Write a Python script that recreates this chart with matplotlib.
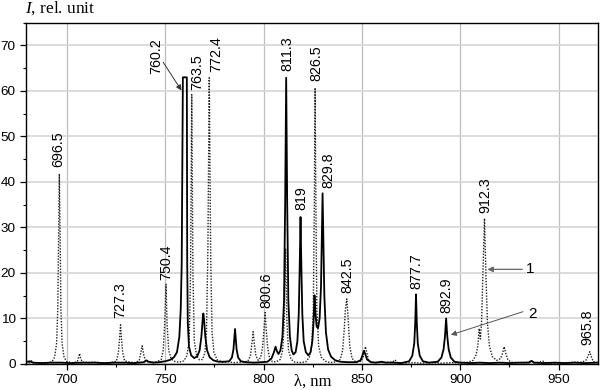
import numpy as np
import matplotlib
matplotlib.use("Agg")
import matplotlib.pyplot as plt
from matplotlib.ticker import MultipleLocator

plt.rcParams['font.family'] = ['Liberation Sans', 'DejaVu Sans']
plt.rcParams['mathtext.fontset'] = 'custom'
plt.rcParams['mathtext.it'] = 'Liberation Serif:italic'
plt.rcParams['mathtext.rm'] = 'Liberation Serif'

# ---- data: spectrum 1 (dotted) as (wavelength nm, intensity) ----
spectrum_1 = np.array([
    (679, 0.3), (681, 0.3), (682, 0.7), (683, 0.2), (686, 0.3), (690, 0.2), (692.5, 0.5),
    (693.8, 1.5), (694.8, 4.5), (695.4, 12), (695.8, 28), (696.2, 41.8), (696.6, 28),
    (697.0, 12), (697.6, 4.5), (698.6, 1.5), (700, 0.5), (703, 0.3), (705.3, 0.5),
    (706.0, 1.5), (706.5, 2.3), (707.0, 1.2), (708, 0.4), (711, 0.3), (715, 0.4),
    (718, 0.2), (722, 0.3), (725.2, 0.6), (726.2, 2.5), (726.8, 5.5), (727.3, 8.6),
    (727.8, 5.5), (728.4, 2.5), (729.4, 0.7), (732, 0.4), (735, 0.3), (736.8, 0.8),
    (737.6, 2.4), (738.3, 4.0), (739.0, 2.2), (740, 0.6), (743, 0.3), (746, 0.5),
    (748.0, 1.0), (749.0, 3.0), (749.7, 8.5), (750.4, 17.5), (751.0, 8.5), (751.8, 3.0),
    (753, 1.2), (754.5, 0.6), (757, 0.4), (759.5, 0.7), (761.0, 1.8), (762.2, 5),
    (762.9, 20), (763.5, 59.2), (764.1, 20), (764.8, 5), (766.0, 1.8), (767.5, 0.9),
    (769, 1.0), (770.2, 2.5), (771.0, 7), (771.7, 25), (772.4, 62.9), (773.1, 25),
    (773.8, 7), (774.8, 2.5), (776.5, 0.9), (779, 0.4), (782, 0.5), (785, 0.3),
    (789, 0.4), (792, 0.6), (793.3, 1.8), (794.1, 4.5), (794.7, 7.1), (795.3, 4.5),
    (796.1, 1.8), (797.3, 0.8), (798.6, 1.5), (799.6, 4), (800.3, 8), (800.8, 11.3),
    (801.3, 8), (802.0, 4), (803.0, 1.3), (804.5, 0.5), (806.5, 0.5), (808.5, 1.0),
    (809.7, 3), (810.5, 9), (811.2, 25.4), (811.9, 9), (812.7, 3), (814, 1.0),
    (816, 0.4), (819, 0.3), (821.5, 0.5), (823.3, 1.5), (824.5, 4), (825.3, 12),
    (825.8, 35), (826.2, 60.7), (826.6, 35), (827.1, 12), (828.0, 4), (829.3, 1.5),
    (831.5, 0.6), (834, 0.3), (837, 0.5), (839, 1.0), (840.2, 3), (841.0, 7.5),
    (841.6, 12), (842.3, 14.3), (843.0, 10), (843.8, 4), (845, 1.2), (847, 0.4),
    (849.5, 0.6), (850.6, 1.5), (851.3, 3.0), (851.8, 3.8), (852.4, 2.6), (853.3, 1.0),
    (855, 0.4), (859, 0.3), (862, 0.4), (865.5, 0.4), (866.8, 0.9), (868, 0.3),
    (872, 0.2), (876, 0.3), (880, 0.2), (885, 0.3), (890, 0.2), (895, 0.3), (900, 0.3),
    (904, 0.4), (906.5, 0.8), (908.0, 2.0), (908.9, 4), (909.6, 7.8), (910.2, 5.5),
    (910.8, 9), (911.5, 20), (912.3, 32.0), (913.0, 20), (913.8, 9), (914.8, 4),
    (916.3, 1.6), (918.5, 0.8), (920.5, 1.2), (921.6, 2.5), (922.3, 3.8), (923.0, 2.5),
    (924.2, 0.9), (926, 0.4), (929, 0.3), (932, 0.3), (934.5, 0.4), (936, 0.7),
    (937.5, 0.3), (940, 0.4), (942, 0.6), (943.5, 0.3), (947, 0.2), (951, 0.3),
    (955, 0.3), (959, 0.4), (962, 0.4), (964.0, 0.9), (965.0, 1.8), (965.8, 2.7),
    (966.6, 1.6), (967.6, 0.5), (970, 0.3),
])

# ---- data: spectrum 2 (solid) ----
spectrum_2 = np.array([
    (679, 0.4), (681, 0.6), (683, 0.3), (687, 0.2), (692, 0.3), (697, 0.3), (702, 0.2),
    (708, 0.3), (714, 0.3), (719, 0.2), (724, 0.3), (729, 0.3), (734, 0.2), (739.2, 0.4),
    (740.5, 0.8), (741.5, 0.5), (744, 0.3), (747, 0.4), (750, 0.6), (752.5, 0.9),
    (754.5, 1.5), (756.0, 2.6), (757.2, 6), (757.9, 12), (758.4, 22), (759.0, 63.0),
    (761.0, 63.0), (761.2, 22), (761.5, 9), (762.1, 3.8), (763.2, 1.9), (764.8, 1.3),
    (766.3, 1.7), (767.5, 3), (768.4, 6), (769.0, 9.5), (769.4, 11.1), (769.8, 9.5),
    (770.4, 6), (771.3, 3), (772.6, 1.5), (774.5, 0.8), (777, 0.5), (780, 0.5),
    (782.5, 0.6), (783.9, 1.4), (784.7, 3.2), (785.2, 6), (785.5, 7.7), (785.8, 6),
    (786.3, 3.2), (787.1, 1.4), (788.5, 0.6), (791, 0.4), (795, 0.3), (799, 0.4),
    (802, 0.5), (804.0, 1.2), (805.2, 2.5), (806.1, 3.8), (806.8, 2.8), (807.6, 2.2),
    (808.6, 3), (809.6, 6), (810.4, 14), (811.0, 36), (811.5, 62.9), (812.0, 36),
    (812.6, 14), (813.4, 6), (814.3, 3), (815.2, 2.1), (816.3, 2.6), (817.2, 5),
    (817.9, 11), (818.4, 22), (818.8, 32.3), (819.2, 22), (819.7, 11), (820.4, 5),
    (821.5, 2.6), (822.8, 1.9), (823.9, 2.6), (824.8, 5), (825.4, 9), (825.9, 15.1),
    (826.4, 11), (827.0, 8.2), (827.7, 7.9), (828.5, 10), (829.2, 17), (829.7, 30),
    (830.0, 37.5), (830.4, 28), (830.9, 15), (831.7, 7), (832.8, 3.2), (834.3, 1.6),
    (836.5, 0.8), (839, 0.5), (843, 0.4), (847, 0.4), (849.3, 0.8), (850.2, 1.8),
    (851.0, 2.9), (851.7, 2.2), (852.6, 1.0), (854.5, 0.4), (857, 0.3), (860, 0.5),
    (862, 0.3), (866, 0.3), (870, 0.2), (874.0, 0.6), (875.6, 1.8), (876.6, 4.5),
    (877.1, 9), (877.5, 15.3), (877.9, 9), (878.4, 4.5), (879.4, 1.8), (881, 0.6),
    (884, 0.3), (888.5, 0.5), (890.4, 1.4), (891.5, 3.2), (892.2, 6), (892.8, 10.0),
    (893.4, 6), (894.1, 3.2), (895.2, 1.4), (897, 0.5), (900, 0.3), (905, 0.2),
    (910, 0.3), (915, 0.2), (920, 0.3), (925, 0.2), (930, 0.3), (935, 0.3), (936.2, 0.7),
    (937.5, 0.3), (942, 0.2), (948, 0.3), (953, 0.2), (958, 0.3), (963, 0.2), (970, 0.3),
])

# peak labels
peak_labels = ["696.5", "727.3", "750.4", "763.5", "772.4", "800.6", "811.3", "819",
               "826.5", "829.8", "842.5", "877.7", "892.9", "912.3", "965.8"]
arrow_label = "760.2"
series_names = ["1", "2"]

# ---- layout (positions of labels in data coordinates) ----
label_pos = [(695.7, 43.3), (727.0, 10.0), (750.7, 18.4), (766.2, 60.3), (776.1, 64.1),
             (801.4, 12.4), (811.9, 64.4), (819.2, 33.8), (826.8, 62.1), (832.7, 38.6),
             (842.5, 15.5), (877.8, 16.4), (892.7, 11.1), (912.5, 33.1), (964.5, 4.2)]

fig = plt.figure(figsize=(6.0, 3.9), dpi=100)
ax = fig.add_axes([25.5 / 600, 1 - 364 / 390, (598 - 25.5) / 600, (364 - 22.7) / 390])

ax.set_xlim(679, 970)
ax.set_ylim(0, 75)

ax.xaxis.set_major_locator(MultipleLocator(50))
ax.xaxis.set_minor_locator(MultipleLocator(25))
ax.yaxis.set_major_locator(MultipleLocator(10))
ax.yaxis.set_minor_locator(MultipleLocator(5))

ax.grid(True, which='major', axis='x', color='#bdbdbd', lw=0.9)
ax.grid(True, which='major', axis='y', color='#d6d6d6', lw=1.2)
ax.set_axisbelow(True)

ax.tick_params(which='major', direction='out', length=4, width=0.9, labelsize=9.7, pad=3)
ax.tick_params(which='minor', direction='out', length=2.5, width=0.8)
for s in ax.spines.values():
    s.set_linewidth(1.0)

ax.plot(spectrum_1[:, 0], spectrum_1[:, 1], color='#222222', lw=1.0,
        linestyle=(0, (1, 1.1)), clip_on=True)
ax.plot(spectrum_2[:, 0], spectrum_2[:, 1], color='black', lw=1.3, clip_on=True)

for lab, (lx, ly) in zip(peak_labels, label_pos):
    ax.text(lx, ly, lab, rotation=90, ha='center', va='bottom', fontsize=10.3)

# 760.2 with arrow
ax.text(745.6, 67.6, arrow_label, rotation=90, ha='center', va='center', fontsize=10.3)
ax.annotate('', xy=(758.3, 60.1), xytext=(749.0, 66.3),
            arrowprops=dict(arrowstyle='-|>', color='#333333', lw=0.7,
                            mutation_scale=8, shrinkA=0, shrinkB=0))

# series markers 1 and 2
ax.text(935.4, 20.8, series_names[0], ha='center', va='center', fontsize=11)
ax.annotate('', xy=(913.8, 20.8), xytext=(931.5, 20.8),
            arrowprops=dict(arrowstyle='-|>', color='#666666', lw=0.9,
                            mutation_scale=8, shrinkA=0, shrinkB=0))
ax.text(936.6, 10.9, series_names[1], ha='center', va='center', fontsize=11)
ax.annotate('', xy=(895.2, 6.4), xytext=(931.9, 11.5),
            arrowprops=dict(arrowstyle='-|>', color='#555555', lw=0.7,
                            mutation_scale=8, shrinkA=0, shrinkB=0))

# axis titles
fig.text(25 / 600, 1 - 13 / 390, r'$\mathit{I}$, rel. unit', family='Liberation Serif',
         fontsize=12.5, ha='left', va='baseline')
fig.text(312.5 / 600, 1 - 382 / 390, 'λ, nm', family='Liberation Serif',
         fontsize=12, ha='center', va='center')

fig.savefig('out.png', dpi=100)
